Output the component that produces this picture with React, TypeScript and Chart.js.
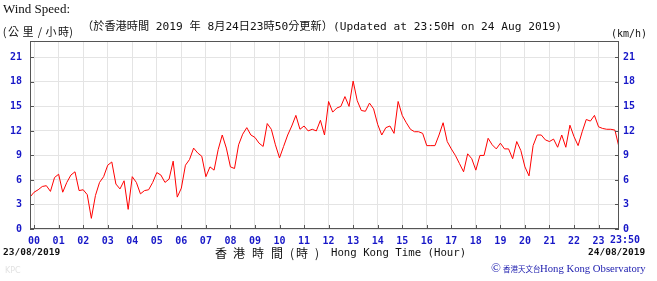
import React, { useEffect, useRef } from "react";
import { Chart, registerables } from "chart.js";

Chart.register(...registerables);

// 10-minute wind speed readings (km/h), starting at 23:50 of the previous day
const START_MIN = -10;
const STEP_MIN = 10;
const SPEED_KMH: number[] = [
  3.9,
  4.5, 4.8, 5.2, 5.3, 4.6, 6.3, // 00
  6.7, 4.5, 5.7, 6.6, 7.0, 4.7, // 01
  4.8, 4.2, 1.3, 4.1, 5.7, 6.4, // 02
  7.8, 8.2, 5.5, 4.9, 5.9, 2.4, // 03
  6.4, 5.7, 4.3, 4.7, 4.8, 5.7, // 04
  6.9, 6.6, 5.7, 6.1, 8.3, 3.9, // 05
  5.0, 7.8, 8.5, 9.9, 9.3, 8.9, // 06
  6.4, 7.6, 7.2, 9.7, 11.5, 9.9, // 07
  7.6, 7.4, 10.3, 11.6, 12.4, 11.5, // 08
  11.2, 10.5, 10.1, 12.9, 12.2, 10.3, // 09
  8.7, 10.1, 11.5, 12.6, 13.9, 12.2, // 10
  12.6, 12.0, 12.2, 12.0, 13.3, 11.5, // 11
  15.6, 14.3, 14.8, 15.0, 16.2, 15.0, // 12
  18.1, 15.7, 14.5, 14.4, 15.4, 14.7, // 13
  12.8, 11.5, 12.4, 12.6, 11.7, 15.6, // 14
  13.9, 13.0, 12.2, 11.9, 11.9, 11.7, // 15
  10.2, 10.2, 10.2, 11.5, 13.0, 10.7, // 16
  9.8, 9.0, 8.0, 7.0, 9.2, 8.6, // 17
  7.2, 9.0, 9.0, 11.1, 10.3, 9.8, // 18
  10.5, 9.8, 9.8, 8.6, 10.7, 9.6, // 19
  7.6, 6.5, 10.2, 11.5, 11.5, 10.9, // 20
  10.7, 11.0, 10.0, 11.5, 10.0, 12.7, // 21
  11.3, 10.2, 11.9, 13.4, 13.2, 13.9, // 22
  12.5, 12.3, 12.2, 12.2, 12.1, 10.0, // 23
];

const HOUR_LABELS = [
  "00", "01", "02", "03", "04", "05", "06", "07", "08", "09", "10", "11",
  "12", "13", "14", "15", "16", "17", "18", "19", "20", "21", "22", "23",
];
const END_LABEL = "23:50";
const X_MIN = -10;
const X_MAX = 1430;
const Y_TICKS = [0, 3, 6, 9, 12, 15, 18, 21];
const Y_MIN = 0;
const Y_MAX = 23;

const TITLE_EN = "Wind Speed:";
const UNIT_ZH = ["(", "公", "里", "/", "小", "時", ")"];
const UNIT_EN = "(km/h)";
const UPDATED =
  "（於香港時間 2019 年 8月24日23時50分更新）(Updated at 23:50H on 24 Aug 2019)";
const DATE_START = "23/08/2019";
const DATE_END = "24/08/2019";
const AXIS_ZH = ["香", "港", "時", "間", "(", "時", ")"];
const AXIS_EN = "Hong Kong Time (Hour)";
const CREDIT_ZH = "香港天文台";
const CREDIT_EN = "Hong Kong Observatory";

const BLUE = "#1818c8";
const MONO = '"DejaVu Sans Mono", "Noto Sans CJK TC", monospace';
const CJK = '"Noto Sans CJK TC", sans-serif';
const SERIF = '"Liberation Serif", "DejaVu Serif", serif';

const overlay = {
  id: "overlay",
  afterDraw(chart: any) {
    const ctx: CanvasRenderingContext2D = chart.ctx;
    const a = chart.chartArea;
    const xs = chart.scales.x;
    const ys = chart.scales.y;
    ctx.save();

    // frame
    ctx.strokeStyle = "#555";
    ctx.lineWidth = 1;
    ctx.strokeRect(a.left + 0.5, a.top + 0.5, a.right - a.left - 1, a.bottom - a.top - 1);

    // inward tick marks
    ctx.beginPath();
    HOUR_LABELS.forEach((_, i) => {
      const px = Math.round(xs.getPixelForValue(i * 60)) + 0.5;
      ctx.moveTo(px, a.bottom);
      ctx.lineTo(px, a.bottom - 4);
    });
    Y_TICKS.forEach((v) => {
      const py = Math.round(ys.getPixelForValue(v)) + 0.5;
      ctx.moveTo(a.left, py);
      ctx.lineTo(a.left + 4, py);
      ctx.moveTo(a.right, py);
      ctx.lineTo(a.right - 4, py);
    });
    ctx.stroke();

    // top texts
    ctx.fillStyle = "#111";
    ctx.textAlign = "left";
    ctx.textBaseline = "alphabetic";
    ctx.font = `13px ${SERIF}`;
    ctx.fillText(TITLE_EN, 3, 13);

    ctx.textBaseline = "middle";
    ctx.textAlign = "center";
    ctx.font = `11px ${CJK}`;
    const unitX = [4.5, 13.5, 28, 40, 51, 63.5, 71];
    UNIT_ZH.forEach((c, i) => ctx.fillText(c, unitX[i], 32));
    ctx.textAlign = "left";

    ctx.font = `11.2px ${MONO}`;
    ctx.fillText(UPDATED, 82, 27);

    ctx.font = `10px ${MONO}`;
    ctx.fillText(UNIT_EN, 611, 34);

    // end label of x axis
    ctx.fillStyle = BLUE;
    ctx.font = `bold 10px ${MONO}`;
    ctx.fillText(END_LABEL, 610, 240);

    // dates
    ctx.fillStyle = "#111";
    ctx.font = `bold 9.5px ${MONO}`;
    ctx.fillText(DATE_START, 3, 253);
    ctx.fillText(DATE_END, 588, 253);

    // axis title
    const zhX = [221, 239, 258, 277, 292, 302, 317];
    ctx.textAlign = "center";
    ctx.font = `12px ${CJK}`;
    AXIS_ZH.forEach((c, i) => ctx.fillText(c, zhX[i], 253));
    ctx.textAlign = "left";
    ctx.font = `10.7px ${MONO}`;
    ctx.fillText(AXIS_EN, 331, 253);

    // credit
    ctx.fillStyle = "#1c1cae";
    ctx.font = `13px ${SERIF}`;
    ctx.fillText("©", 491, 269);
    ctx.font = `7.5px ${CJK}`;
    ctx.fillText(CREDIT_ZH, 503, 269);
    ctx.font = `10.7px ${SERIF}`;
    ctx.fillText(CREDIT_EN, 540, 269);

    ctx.fillStyle = "#e2e2e2";
    ctx.font = `8px "DejaVu Sans", sans-serif`;
    ctx.fillText("KPC", 5, 271);

    ctx.restore();
  },
};

export default function App() {
  const ref = useRef<HTMLCanvasElement | null>(null);

  useEffect(() => {
    if (!ref.current) return;
    const points = SPEED_KMH.map((v, i) => ({ x: START_MIN + i * STEP_MIN, y: v }));
    const tickFont = { family: MONO, size: 10, weight: "bold" as const };
    const yTicks = (s: any) => {
      s.ticks = Y_TICKS.map((v) => ({ value: v }));
    };
    const chart = new Chart(ref.current, {
      type: "line",
      data: {
        datasets: [
          {
            data: points,
            borderColor: "#ff0000",
            borderWidth: 1,
            pointRadius: 0,
            tension: 0,
            fill: false,
          },
        ],
      },
      options: {
        animation: false,
        responsive: false,
        devicePixelRatio: 1,
        layout: { padding: { top: 41, left: 0, right: 0, bottom: 0 } },
        plugins: { legend: { display: false }, tooltip: { enabled: false } },
        scales: {
          x: {
            type: "linear",
            min: X_MIN,
            max: X_MAX,
            afterBuildTicks: (s: any) => {
              s.ticks = HOUR_LABELS.map((_, i) => ({ value: i * 60 }));
            },
            afterFit: (s: any) => {
              s.height = 52;
            },
            grid: { color: "#e4e4e4", drawTicks: false },
            border: { display: false },
            ticks: {
              color: BLUE,
              font: tickFont,
              padding: 6,
              maxRotation: 0,
              autoSkip: false,
              callback: (v: any) => HOUR_LABELS[Math.round(Number(v) / 60)] ?? "",
            },
          },
          y: {
            type: "linear",
            position: "left",
            min: Y_MIN,
            max: Y_MAX,
            afterBuildTicks: yTicks,
            afterFit: (s: any) => {
              s.width = 30;
            },
            grid: { color: "#e4e4e4", drawTicks: false },
            border: { display: false },
            ticks: { color: BLUE, font: tickFont, padding: 8 },
          },
          y2: {
            type: "linear",
            position: "right",
            display: true,
            min: Y_MIN,
            max: Y_MAX,
            afterBuildTicks: yTicks,
            afterFit: (s: any) => {
              s.width = 38;
            },
            grid: { display: false, drawTicks: false },
            border: { display: false },
            ticks: { color: BLUE, font: tickFont, padding: 4 },
          },
        },
      },
      plugins: [overlay],
    });
    return () => chart.destroy();
  }, []);

  return (
    <div
      style={{
        position: "fixed",
        left: 0,
        top: 0,
        width: 657,
        height: 281,
        background: "#fff",
      }}
    >
      <canvas ref={ref} width={657} height={281} style={{ width: 657, height: 281, display: "block" }} />
    </div>
  );
}
